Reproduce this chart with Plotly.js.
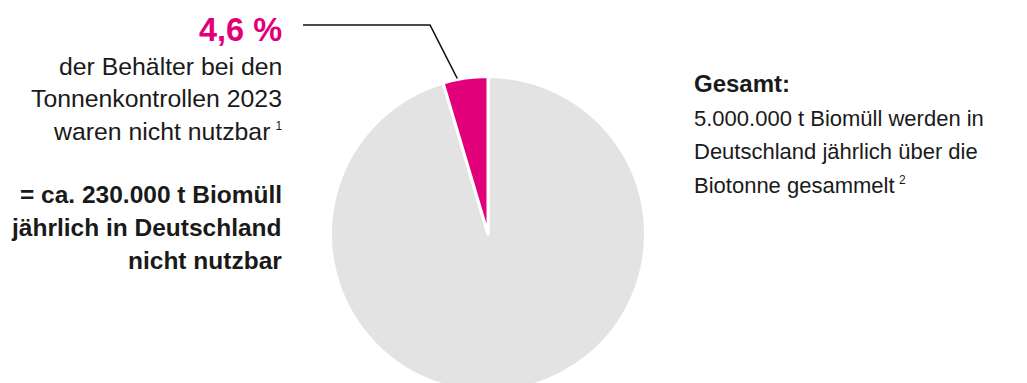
<!DOCTYPE html>
<html>
<head>
<meta charset="utf-8">
<script src="https://cdn.plot.ly/plotly-3.0.1.min.js"></script>
<style>
  html, body { margin: 0; padding: 0; background: #ffffff; }
  #wrap { width: 1027px; height: 383px; overflow: hidden; }
  #chart { width: 1027px; height: 400px; }
</style>
</head>
<body>
<div id="wrap"><div id="chart"></div></div>
<script>
// ---- data ----
const sliceLabels = ['nutzbar', 'nicht nutzbar'];
const sliceValues = [95.4, 4.6];
const sliceColors = ['#e3e3e3', '#e2007a'];

const headlineValue = '4,6 %';
const leftLines = ['der Behälter bei den', 'Tonnenkontrollen 2023', 'waren nicht nutzbar'];
const leftFootnote = '1';
const leftBoldLines = ['= ca. 230.000 t Biomüll', 'jährlich in Deutschland', 'nicht nutzbar'];
const rightTitle = 'Gesamt:';
const rightLines = ['5.000.000 t Biomüll werden in', 'Deutschland jährlich über die', 'Biotonne gesammelt'];
const rightFootnote = '2';

// ---- geometry ----
const W = 1027, H = 400;
const cx = 488, cy = 234, R = 157.5;
const FONT = 'Liberation Sans, Arial, sans-serif';

function px2x(x) { return x / W; }
function px2y(y) { return 1 - y / H; }
function sup(t) { return '\u2009<sup><span style="font-size:12px">' + t + '</span></sup>'; }

function line(text, x, baseline, size, bold, color, anchor) {
  return {
    xref: 'paper', yref: 'paper',
    x: px2x(x), y: px2y(baseline - 0.35 * size),
    xanchor: anchor, yanchor: 'middle',
    text: bold ? '<b>' + text + '</b>' : text,
    showarrow: false,
    align: anchor,
    font: { family: FONT, size: size, color: color }
  };
}

const annotations = [];
annotations.push(line(headlineValue, 284, 41, 32.5, true, sliceColors[1], 'right'));
leftLines.forEach((t, i) => {
  const txt = i === leftLines.length - 1 ? t + sup(leftFootnote) : t;
  annotations.push(line(txt, 284, 75 + i * 32.5, 24.8, false, '#1a1a1a', 'right'));
});
leftBoldLines.forEach((t, i) => annotations.push(line(t, 284, 203 + i * 33, 24.5, true, '#1a1a1a', 'right')));
annotations.push(line(rightTitle, 692, 92, 24, true, '#1a1a1a', 'left'));
rightLines.forEach((t, i) => {
  const txt = i === rightLines.length - 1 ? t + sup(rightFootnote) : t;
  annotations.push(line(txt, 692, 126 + i * 33.5, 22, false, '#1a1a1a', 'left'));
});

// leader line from the headline to the small slice
const smallFrac = sliceValues[1] / (sliceValues[0] + sliceValues[1]);
const ang = smallFrac * Math.PI * 1.35; // a bit past the slice middle, measured from 12 o'clock
const endX = cx - (R + 1) * Math.sin(ang);
const endY = cy - (R + 1) * Math.cos(ang);
const leader = {
  type: 'path', xref: 'paper', yref: 'paper',
  path: 'M ' + px2x(303) + ',' + px2y(25) + ' L ' + px2x(430) + ',' + px2y(25) + ' L ' + px2x(endX) + ',' + px2y(endY),
  line: { color: '#111111', width: 1.6 }
};

const trace = {
  type: 'pie',
  labels: sliceLabels,
  values: sliceValues,
  sort: false,
  direction: 'counterclockwise',
  rotation: 0,
  marker: { colors: sliceColors, line: { color: '#ffffff', width: 3 } },
  textinfo: 'none',
  hoverinfo: 'label+percent',
  domain: { x: [px2x(cx - R), px2x(cx + R)], y: [px2y(cy + R), px2y(cy - R)] }
};

const layout = {
  width: W, height: H,
  margin: { l: 0, r: 0, t: 0, b: 0 },
  paper_bgcolor: '#ffffff',
  showlegend: false,
  annotations: annotations,
  shapes: [leader]
};

Plotly.newPlot('chart', [trace], layout, { displayModeBar: false, staticPlot: true });
</script>
</body>
</html>
